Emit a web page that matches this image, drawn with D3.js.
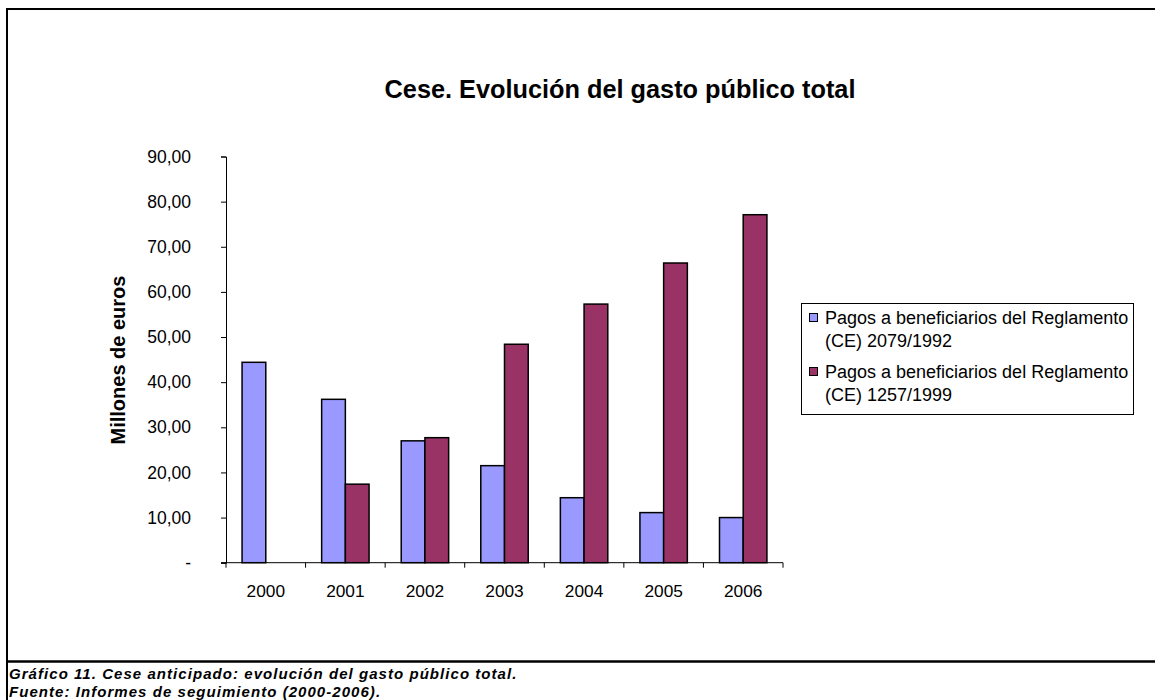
<!DOCTYPE html>
<html>
<head>
<meta charset="utf-8">
<script src="https://cdn.jsdelivr.net/npm/d3@7"></script>
<style>
  body { margin: 0; background: #fff; }
  text { font-family: "Liberation Sans", Arial, sans-serif; }
</style>
</head>
<body>
<div id="chart"></div>
<script>
  const W = 1155, H = 700

  // data
  const years = ["2000", "2001", "2002", "2003", "2004", "2005", "2006"]
  const reg2079 = [44.4, 36.2, 27.0, 21.5, 14.4, 11.1, 10.0]
  const reg1257 = [null, 17.4, 27.7, 48.4, 57.3, 66.4, 77.1]
  const seriesNames = ["Pagos a beneficiarios del Reglamento (CE) 2079/1992",
                       "Pagos a beneficiarios del Reglamento (CE) 1257/1999"]
  const seriesColors = ["#9999FF", "#993366"]
  const yTicks = [0, 10, 20, 30, 40, 50, 60, 70, 80, 90]

  const svg = d3.select("#chart").append("svg")
    .attr("width", W).attr("height", H)

  // outer frame
  svg.append("path")
    .attr("d", `M7,700 L7,9 L${W},9`)
    .attr("fill", "none").attr("stroke", "#000").attr("stroke-width", 2)
  svg.append("line")
    .attr("x1", 7).attr("x2", W).attr("y1", 661.5).attr("y2", 661.5)
    .attr("stroke", "#000").attr("stroke-width", 2.5)

  const x = d3.scaleBand().domain(years).range([226, 783]).paddingInner(0).paddingOuter(0)
  const y = d3.scaleLinear().domain([0, 90]).range([562.7, 156.5])
  const barW = x.bandwidth() * 0.298

  const esLocale = d3.formatLocale({decimal: ",", thousands: ".", grouping: [3], currency: ["", "€"]})
  const fmt = esLocale.format(",.2f")

  // title
  svg.append("text")
    .attr("x", 620).attr("y", 98)
    .attr("text-anchor", "middle")
    .attr("font-size", 25.3).attr("font-weight", "bold")
    .text("Cese. Evolución del gasto público total")

  // y axis
  const yAxis = svg.append("g")
    .attr("transform", "translate(226,0)")
    .call(d3.axisLeft(y).tickValues(yTicks).tickSize(5).tickPadding(30)
      .tickFormat(d => d === 0 ? "-" : fmt(d)))
  yAxis.selectAll("text").attr("font-size", 17.5).attr("fill", "#000")
    .style("font-family", "'Liberation Sans', Arial, sans-serif")
  yAxis.select(".domain").attr("stroke", "#000")
  yAxis.selectAll(".tick line").attr("stroke", "#000")

  svg.append("text")
    .attr("transform", "translate(125,360) rotate(-90)")
    .attr("text-anchor", "middle")
    .attr("font-size", 20).attr("font-weight", "bold")
    .text("Millones de euros")

  // bars
  const series = [reg2079, reg1257]
  series.forEach((vals, s) => {
    svg.append("g").selectAll("rect")
      .data(years.map((yr, i) => ({yr, v: vals[i]})).filter(d => d.v != null))
      .join("rect")
        .attr("x", d => x(d.yr) + x.bandwidth() / 2 - barW + s * barW)
        .attr("y", d => y(d.v))
        .attr("width", barW)
        .attr("height", d => y(0) - y(d.v))
        .attr("fill", seriesColors[s])
        .attr("stroke", "#000").attr("stroke-width", 1.5)
  })

  // x axis with ticks at category edges
  const xg = svg.append("g").attr("transform", `translate(0,${y(0)})`)
  xg.append("line").attr("x1", 221).attr("x2", 783).attr("stroke", "#000")
  xg.selectAll("line.tk")
    .data(years.map(d => x(d)).concat([783]))
    .join("line").attr("class", "tk")
      .attr("x1", d => d).attr("x2", d => d).attr("y1", 0).attr("y2", 5)
      .attr("stroke", "#000")
  xg.selectAll("text")
    .data(years)
    .join("text")
      .attr("x", d => x(d) + x.bandwidth() / 2)
      .attr("y", 34)
      .attr("text-anchor", "middle")
      .attr("font-size", 17.3)
      .text(d => d)

  // legend
  const lg = svg.append("g")
  lg.append("rect")
    .attr("x", 801.5).attr("y", 303.5).attr("width", 332).attr("height", 111)
    .attr("fill", "#fff").attr("stroke", "#000")
  seriesNames.forEach((name, i) => {
    const mid = 318 + i * 54
    const words = name.split(" (")
    lg.append("rect")
      .attr("x", 809.5).attr("y", mid - 4.5).attr("width", 8).attr("height", 8)
      .attr("fill", seriesColors[i]).attr("stroke", "#000")
    lg.append("text").attr("x", 825).attr("y", mid + 6)
      .attr("font-size", 18).text(words[0])
    lg.append("text").attr("x", 825).attr("y", mid + 29)
      .attr("font-size", 18).text("(" + words[1])
  })

  // caption
  const cap = svg.append("g")
    .attr("font-size", 15).attr("font-weight", "bold").attr("font-style", "italic")
    .attr("letter-spacing", 1.05)
  cap.append("text").attr("x", 9).attr("y", 679)
    .text("Gráfico 11. Cese anticipado: evolución del gasto público total.")
  cap.append("text").attr("x", 9).attr("y", 697)
    .text("Fuente: Informes de seguimiento (2000-2006).")
</script>
</body>
</html>
